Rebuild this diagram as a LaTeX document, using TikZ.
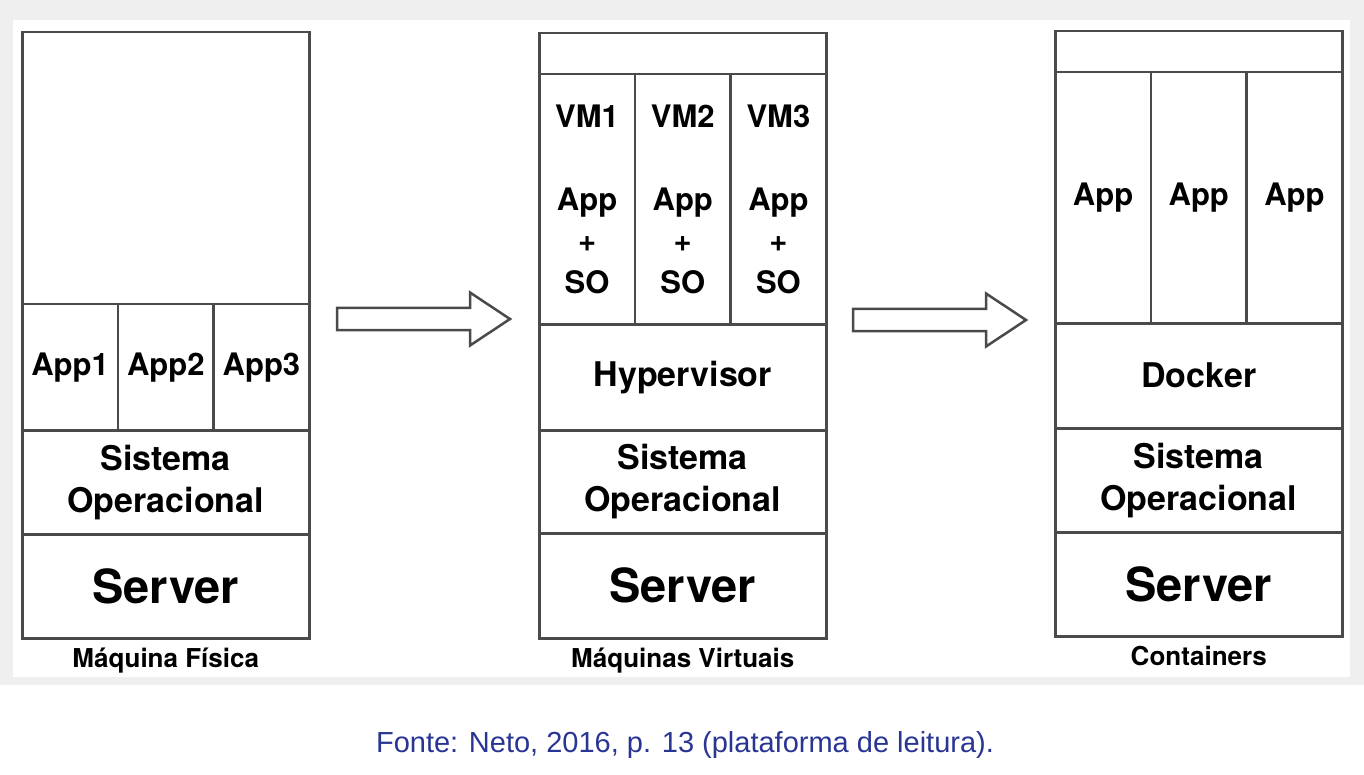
\documentclass[tikz,border=0pt]{standalone}
\usepackage{fontspec}
\setmainfont{TeX Gyre Heros}
\newfontfamily\fontelegenda{Liberation Sans}
\usetikzlibrary{positioning}
\definecolor{linha}{HTML}{4A4A4A}
\definecolor{cinza}{HTML}{EFEFEF}
\definecolor{azul}{RGB}{40,53,147}
\tikzset{
  camada/.style={draw=linha, line width=2.5pt, anchor=north west, minimum width=287pt, inner sep=0pt, align=center},
  celula/.style={camada, minimum width=95.67pt},
  seta/.pic={\draw[linha, line width=2.5pt, fill=white] (0,-11) -- (133,-11) -- (133,-26.5) -- (173,0) -- (133,26.5) -- (133,11) -- (0,11) -- cycle;},
}
\begin{document}
\begin{tikzpicture}[
    x=1pt, y=-1pt,
    grande/.style={font=\bfseries\fontsize{47}{50}\selectfont},
    medio/.style={font=\bfseries\fontsize{34}{42}\selectfont},
    pequeno/.style={font=\bfseries\fontsize{31}{41.5}\selectfont},
    rotulo/.style={font=\bfseries\fontsize{26}{30}\selectfont, inner sep=0pt},
]
    \useasboundingbox (0,0) rectangle (1364,775);
    % fundo
    \fill[cinza] (0,0) rectangle (1364,685);
    \fill[white] (13,20) rectangle (1350,677);

    % maquina fisica
    \node[camada, minimum height=272pt] (topo1) at (21,31) {};
    \foreach \i in {1,2,3}
        \node[celula, minimum height=126pt, pequeno] (app\i) at ({21+(\i-1)*95.67},303) {App\i};
    \node[camada, minimum height=104pt, medio] (so1) at (21,429) {Sistema\\Operacional};
    \node[camada, minimum height=104pt, grande] (srv1) at (21,533) {Server};
    \node[rotulo, below=8pt of srv1] (lab1) {Máquina Física};

    \pic at (337,319) {seta};

    % maquinas virtuais
    \node[camada, minimum height=41pt] (topo2) at (538,32) {};
    \foreach \i in {1,2,3}
        \node[celula, minimum height=250pt, pequeno] (vm\i) at ({538+(\i-1)*95.67},73) {VM\i\\[41.5pt]App\\+\\SO};
    \node[camada, minimum height=106pt, medio] (hyp) at (538,323) {Hypervisor};
    \node[camada, minimum height=103pt, medio] (so2) at (538,429) {Sistema\\Operacional};
    \node[camada, minimum height=105pt, grande] (srv2) at (538,532) {Server};
    \node[rotulo, below=8pt of srv2] (lab2) {Máquinas Virtuais};

    \pic at (853,320) {seta};

    % containers
    \node[camada, minimum height=41pt] (topo3) at (1054,30) {};
    \foreach \i in {1,2,3}
        \node[celula, minimum height=251pt, pequeno] (ct\i) at ({1054+(\i-1)*95.67},71) {App};
    \node[camada, minimum height=105pt, medio] (dock) at (1054,322) {Docker};
    \node[camada, minimum height=104pt, medio] (so3) at (1054,427) {Sistema\\Operacional};
    \node[camada, minimum height=104pt, grande] (srv3) at (1054,531) {Server};
    \node[rotulo, below=8pt of srv3] (lab3) {Containers};

    \node[font=\fontelegenda\fontsize{29}{33}\selectfont, text=azul] (fonte) at (685,745) {Fonte: Neto, 2016, p. 13 (plataforma de leitura).};
\end{tikzpicture}
\end{document}
